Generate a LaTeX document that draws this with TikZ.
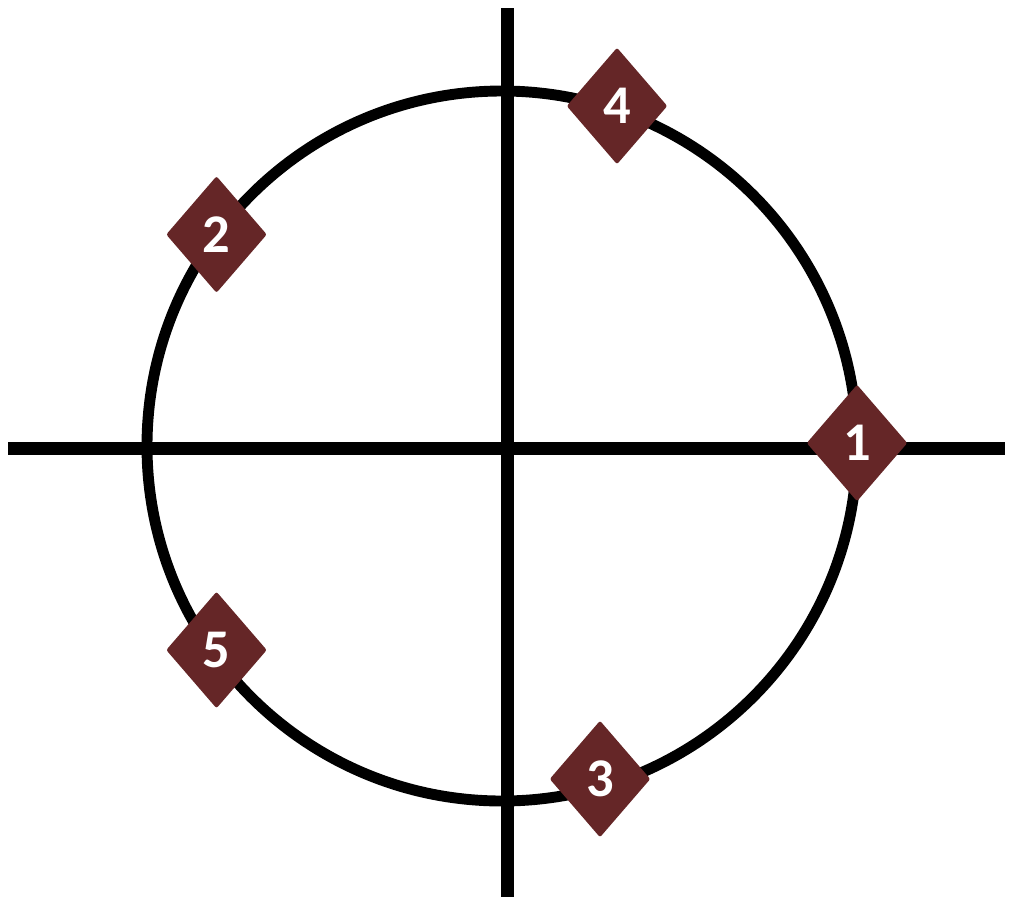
\documentclass[tikz,border=0pt]{standalone}
\usepackage{fontspec}
\setsansfont{Carlito}
\usetikzlibrary{shapes.geometric}
\definecolor{maroon}{HTML}{652627}

\begin{document}
\begin{tikzpicture}[x=0.01cm,y=-0.01cm,
  dmd/.style={diamond,fill=maroon,text=white,rounded corners=0.6pt,minimum width=1.01cm,minimum height=1.17cm,inner sep=0pt,font=\sffamily\bfseries\fontsize{15.5}{18}\selectfont}]
\useasboundingbox (0,0) rectangle (1010,900);
\coordinate (o) at (502,446);
\coordinate (xl) at (8,448);
\coordinate (xr) at (1005,448);
\coordinate (yt) at (507.5,8);
\coordinate (yb) at (507.5,897);
% axes and circle
\draw[line width=3.7pt] (xl) -- (xr);
\draw[line width=3.7pt] (yt) -- (yb);
\draw[line width=3.1pt] (o) circle[radius=355];
% points on the circle
\node[dmd] (p1) at (857,443) {1};
\node[dmd] (p2) at (216.5,234.5) {2};
\node[dmd] (p3) at (600,779) {3};
\node[dmd] (p4) at (617,106) {4};
\node[dmd] (p5) at (216.5,650) {5};
\end{tikzpicture}
\end{document}
